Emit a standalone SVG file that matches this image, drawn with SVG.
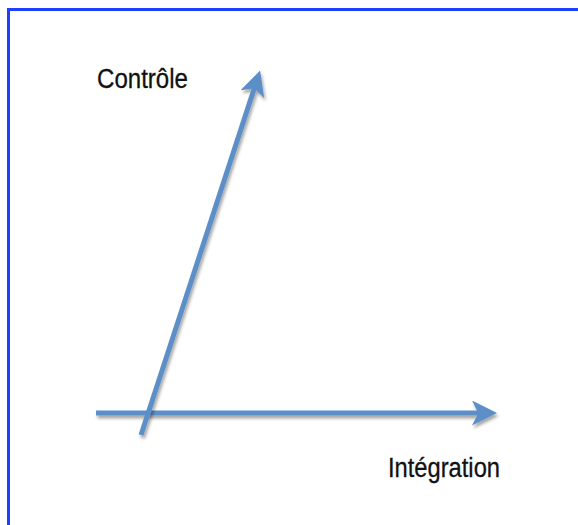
<svg xmlns="http://www.w3.org/2000/svg" width="578" height="525" viewBox="0 0 578 525">
<style>
.ax{stroke:#5b8fc8;stroke-width:5;fill:none;stroke-linecap:butt;filter:url(#sh)}
.lbl{font-family:"Liberation Sans",Arial,sans-serif;fill:#111;stroke:#111;stroke-width:0.3}
</style>
<defs>
<filter id="sh" filterUnits="userSpaceOnUse" x="0" y="0" width="578" height="525">
<feDropShadow dx="1.5" dy="3" stdDeviation="1.8" flood-color="#000" flood-opacity="0.35"/>
</filter>
<marker id="ah" viewBox="0 0 10 10" refX="6" refY="5" markerWidth="5" markerHeight="5" orient="auto" markerUnits="strokeWidth">
<path d="M0,0 L10,5 L0,10 L2.5,5 Z" fill="#5b8fc8"/>
</marker>
</defs>
<rect width="578" height="525" fill="#fff"/>
<path d="M8.5,525 V9.5 H578" fill="none" stroke="#1f3fff" stroke-width="3"/>
<g id="connectors">
<line class="ax" x1="96" y1="413" x2="487" y2="413" marker-end="url(#ah)"/>
<line class="ax" x1="141" y1="435" x2="257" y2="80" marker-end="url(#ah)"/>
</g>
<g id="controle"><text class="lbl" x="97" y="88" font-size="27" textLength="91" lengthAdjust="spacingAndGlyphs">Contrôle</text></g>
<g id="integration"><text class="lbl" x="388" y="477" font-size="27" textLength="112" lengthAdjust="spacingAndGlyphs">Intégration</text></g>
</svg>
